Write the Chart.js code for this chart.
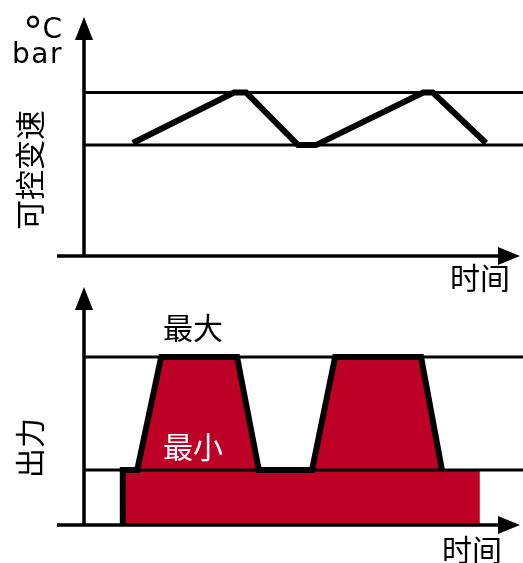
<!DOCTYPE html>
<html>
<head>
<meta charset="utf-8">
<script src="https://cdn.jsdelivr.net/npm/chart.js@4/dist/chart.umd.min.js"></script>
<style>
  html, body { margin: 0; padding: 0; background: #fff; }
  #wrap { position: relative; width: 523px; height: 563px; }
  canvas { position: absolute; left: 0; }
  #top { top: 0; }
  #bottom { top: 270px; }
</style>
</head>
<body>
<div id="wrap">
  <canvas id="top" width="523" height="300"></canvas>
  <canvas id="bottom" width="523" height="293"></canvas>
</div>
<script>
// time runs 0..100 on both panels, value axis 0..100 (no ticks shown)

// upper panel: controlled variable (°C / bar)
const speedTime  = [11.2, 34.4, 37.2, 49.1, 53.2, 77.8, 80.0, 92.2];
const speedValue = [47.3, 68.4, 68.4, 46.4, 46.4, 68.4, 68.4, 47.3];
const speedBand  = [46.4, 68.4];          // lower / upper limit

// lower panel: output
const outTime   = [8.9, 8.9, 12.2, 17.7, 35.1, 40.1, 52.3, 57.6, 77.3, 82.1];
const outValue  = [0, 23.1, 23.1, 70.6, 70.6, 23.1, 23.1, 70.6, 70.6, 23.1];
const baseTime  = [8.9, 8.9, 90.8, 90.8];
const baseValue = [0, 23.1, 23.1, 0];
const outBand   = [23.1, 70.6];           // 最小 / 最大

const bandSpan = [0, 101];
const RED = '#be0027';
const CJK = '"Noto Sans CJK SC", "Noto Sans", sans-serif';
const LAT = '"DejaVu Sans", "Noto Sans", sans-serif';

const pts = (xs, ys) => xs.map((x, i) => ({ x, y: ys[i] }));
const hline = v => bandSpan.map(x => ({ x, y: v }));

// axes with arrowheads + free labels
const decor = {
  id: 'decor',
  afterDraw(chart, args, opts) {
    const ctx = chart.ctx;
    const xs = chart.scales.x, ys = chart.scales.y;
    const x0 = xs.getPixelForValue(0), y0 = ys.getPixelForValue(0);
    const xEnd = xs.getPixelForValue(100), yEnd = ys.getPixelForValue(100);
    ctx.save();
    ctx.strokeStyle = '#000';
    ctx.fillStyle = '#000';
    ctx.lineWidth = 3.5;
    ctx.beginPath();
    ctx.moveTo(x0, yEnd + 20);
    ctx.lineTo(x0, y0 + 1.5);
    ctx.moveTo(xs.getPixelForValue(-6.2), y0);
    ctx.lineTo(xEnd - 18, y0);
    ctx.stroke();

    ctx.beginPath();
    ctx.moveTo(x0, yEnd);
    ctx.lineTo(x0 - 9, yEnd + 23);
    ctx.lineTo(x0 + 9, yEnd + 23);
    ctx.closePath();
    ctx.moveTo(xEnd, y0);
    ctx.lineTo(xEnd - 22, y0 - 9);
    ctx.lineTo(xEnd - 22, y0 + 9);
    ctx.closePath();
    ctx.fill();

    (opts.texts || []).forEach(t => {
      ctx.save();
      ctx.font = t.font;
      ctx.fillStyle = t.color || '#000';
      ctx.textAlign = t.align || 'center';
      ctx.textBaseline = t.baseline || 'middle';
      if (t.spacing) ctx.letterSpacing = t.spacing;
      ctx.translate(t.x, t.y);
      if (t.rotate) ctx.rotate(t.rotate);
      ctx.fillText(t.text, 0, 0);
      ctx.restore();
    });
    ctx.restore();
  }
};

function baseOptions(padBottom, texts) {
  return {
    responsive: false,
    animation: false,
    events: [],
    layout: { padding: { left: 84, right: 3, top: 17, bottom: padBottom } },
    scales: {
      x: { type: 'linear', min: 0, max: 100, display: false },
      y: { type: 'linear', min: 0, max: 100, display: false }
    },
    plugins: {
      legend: { display: false },
      tooltip: { enabled: false },
      filler: { drawTime: 'beforeDatasetsDraw' },
      decor: { texts }
    },
    elements: { point: { radius: 0 }, line: { tension: 0 } }
  };
}

new Chart(document.getElementById('top'), {
  type: 'line',
  data: {
    datasets: [
      { data: hline(speedBand[0]), borderColor: '#000', borderWidth: 3, clip: false, order: 3 },
      { data: hline(speedBand[1]), borderColor: '#000', borderWidth: 3, clip: false, order: 3 },
      { data: pts(speedTime, speedValue), borderColor: '#000', borderWidth: 6, clip: false, order: 1 }
    ]
  },
  options: baseOptions(44, [
    { text: '°', x: 43, y: 46, align: 'right', baseline: 'alphabetic', font: '40px ' + LAT },
    { text: 'C', x: 62, y: 38, align: 'right', baseline: 'alphabetic', font: '28px ' + LAT },
    { text: 'bar', x: 63, y: 63, align: 'right', baseline: 'alphabetic', spacing: '1.5px', font: '28px ' + LAT },
    { text: '可控变速', x: 30, y: 170, rotate: -Math.PI / 2, font: '30px ' + CJK },
    { text: '时间', x: 480, y: 278, font: '30px ' + CJK }
  ]),
  plugins: [decor]
});

new Chart(document.getElementById('bottom'), {
  type: 'line',
  data: {
    datasets: [
      { data: pts(baseTime, baseValue), borderWidth: 0, borderColor: RED,
        backgroundColor: RED, fill: 'origin', clip: false, order: 4 },
      { data: hline(outBand[0]), borderColor: '#000', borderWidth: 3, clip: false, order: 2 },
      { data: hline(outBand[1]), borderColor: '#000', borderWidth: 3, clip: false, order: 2 },
      { data: pts(outTime, outValue), borderColor: '#000', borderWidth: 6,
        backgroundColor: RED, fill: 'origin', clip: false, order: 1 }
    ]
  },
  options: baseOptions(38, [
    { text: '出力', x: 30, y: 178, rotate: -Math.PI / 2, font: '30px ' + CJK },
    { text: '时间', x: 472, y: 280, font: '30px ' + CJK },
    { text: '最大', x: 193, y: 58, font: '30px ' + CJK },
    { text: '最小', x: 193, y: 177, color: '#fff', font: '30px ' + CJK }
  ]),
  plugins: [decor]
});
</script>
</body>
</html>
